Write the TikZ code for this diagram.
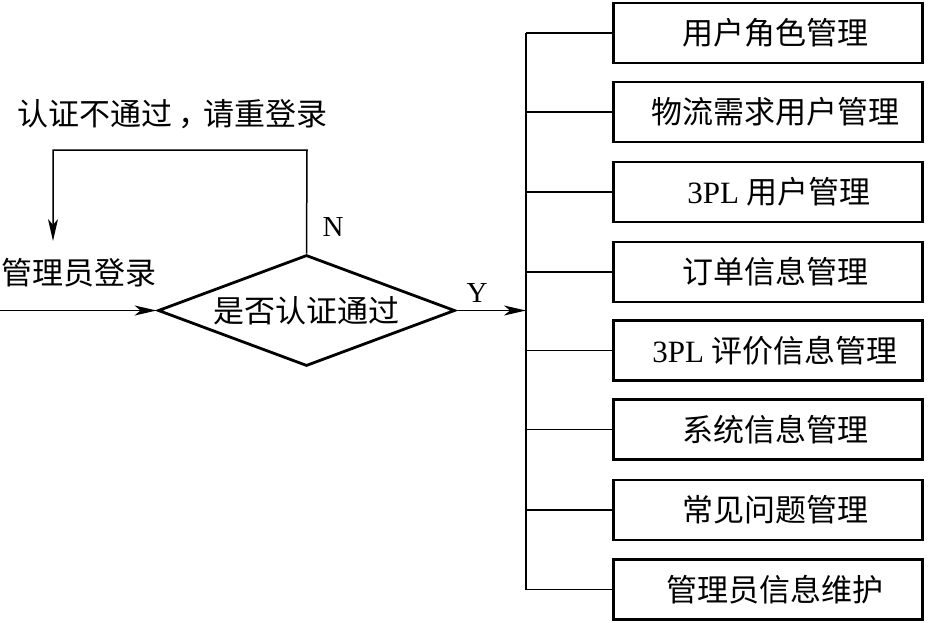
\documentclass[tikz,border=0pt]{standalone}
\usepackage{fontspec}
\setmainfont{Liberation Serif}
\newfontfamily\cjk{Noto Sans CJK SC}
\usetikzlibrary{shapes.geometric,arrows.meta}
\begin{document}
\begin{tikzpicture}[x=1pt,y=-1pt,
  txt/.style={font=\fontsize{31}{34}\selectfont, inner sep=0pt},
  lat/.style={font=\fontsize{29}{32}\selectfont, inner sep=0pt},
  conn/.style={line width=1.5pt},
  arr/.style={line width=1.5pt, -{Stealth[length=22pt,width=10pt,inset=6pt]}},
  box/.style={draw, line width=2.8pt, minimum width=309pt, minimum height=60pt, inner sep=0pt, font=\fontsize{31}{34}\selectfont, execute at begin node={\hspace*{14pt}}},
  dia/.style={draw, diamond, line width=2.8pt, aspect=2.7, minimum width=297pt, minimum height=111pt, inner sep=0pt, font=\fontsize{31}{34}\selectfont}]
\useasboundingbox (0,0) rectangle (928,622);
% decision
\node[dia] (d) at (306.5,310.5) {\cjk 是否认证通过};
% labels
\node[txt] (tfail) at (172,114) {\cjk 认证不通过\hspace{7pt}，\hspace{-7pt}请重登录};
\node[txt] (tlogin) at (79,273) {\cjk 管理员登录};
\node[lat] (tn) at (333,227) {N};
\node[lat] (ty) at (477,293) {Y};
% boxes
\node[box] (b1) at (768,33) {\cjk 用户角色管理};
\node[box] (b2) at (768,112) {\cjk 物流需求用户管理};
\node[box] (b3) at (768,192) {\hspace*{8pt}3PL {\cjk 用户管理}};
\node[box] (b4) at (768,272) {\cjk 订单信息管理};
\node[box] (b5) at (768,350.5) {3PL {\cjk 评价信息管理}};
\node[box] (b6) at (768,429.5) {\cjk 系统信息管理};
\node[box] (b7) at (768,510) {\cjk 常见问题管理};
\node[box] (b8) at (768,589.5) {\cjk 管理员信息维护};
% coordinates
\coordinate (in) at (0,310.5);
\coordinate (lc1) at (307,150);
\coordinate (lc2) at (53,150);
\coordinate (lend) at (53,241);
\coordinate (bus) at (526,0);
% connectors
\draw[arr] (in) -- (d.west);
\draw[arr] (d.north) -- (lc1) -- (lc2) -- (lend);
\draw[arr] (d.east) -- (bus |- d.east);
\draw[conn] (bus |- b1.west) -- (bus |- b8.west);
\foreach \i in {1,...,8} {\draw[conn] (b\i.west) -- (bus |- b\i.west);}
\end{tikzpicture}
\end{document}
